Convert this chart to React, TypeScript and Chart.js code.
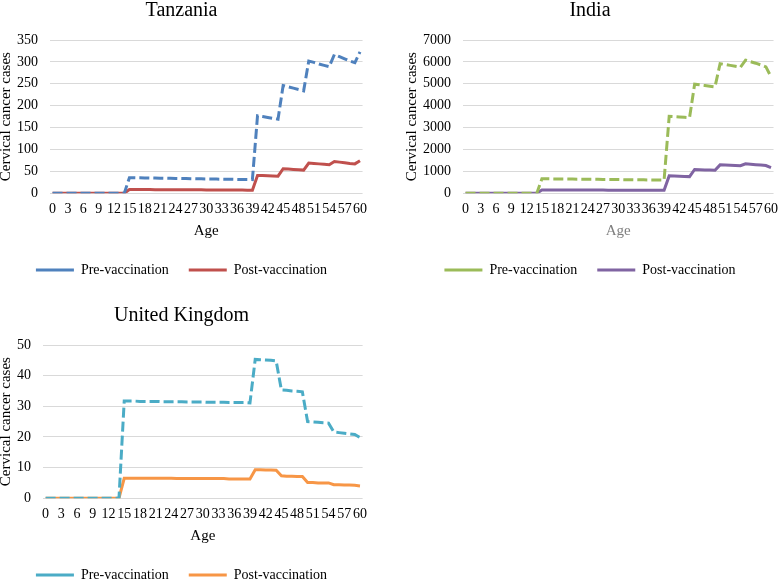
import React, { useEffect, useRef } from 'react';
import { Chart, registerables } from 'chart.js';

Chart.register(...registerables);

const FONT = "'Liberation Serif', 'Times New Roman', serif";

const ages = [
  '0', '1', '2', '3', '4', '5', '6', '7', '8', '9', '10', '11', '12', '13', '14', '15', '16', '17', '18', '19', '20',
  '21', '22', '23', '24', '25', '26', '27', '28', '29', '30', '31', '32', '33', '34', '35', '36', '37', '38', '39', '40',
  '41', '42', '43', '44', '45', '46', '47', '48', '49', '50', '51', '52', '53', '54', '55', '56', '57', '58', '59', '60',
];

const xTickLabels = ['0', '3', '6', '9', '12', '15', '18', '21', '24', '27', '30', '33', '36', '39', '42', '45', '48', '51', '54', '57', '60'];

const seriesNames = ['Pre-vaccination', 'Post-vaccination'];

// Tanzania
const tanzaniaPre = [
  0, 0, 0, 0, 0, 0, 0, 0, 0, 0, 0, 0, 0, 0, 0,
  35.5, 35.3, 35.1, 35.0, 34.8, 34.6, 34.4, 34.2, 34.0, 33.8, 33.6, 33.4, 33.2, 33.0, 32.8, 32.6, 32.4, 32.2, 32.0, 31.8, 31.7, 31.5, 31.3, 31.1, 31.0,
  177, 175, 173, 171, 169,
  246, 243, 240, 237, 234,
  302, 299, 295, 292, 289,
  317, 312, 307, 302, 298,
  323,
];
const tanzaniaPost = [
  0, 0, 0, 0, 0, 0, 0, 0, 0, 0, 0, 0, 0, 0, 0,
  8.4, 8.3, 8.3, 8.2, 8.2, 8.1, 8.0, 8.0, 7.9, 7.9, 7.8, 7.7, 7.7, 7.6, 7.6, 7.5, 7.4, 7.4, 7.3, 7.3, 7.2, 7.1, 7.1, 7.0, 7.0,
  40.5, 40.2, 39.8, 39.4, 39.0,
  56.0, 55.2, 54.4, 53.6, 52.8,
  69.0, 68.0, 67.0, 66.0, 65.0,
  72.5, 71.0, 69.5, 68.0, 67.0,
  74.0,
];
const tanzaniaTicks = [0, 50, 100, 150, 200, 250, 300, 350];

// India
const indiaPre = [
  0, 0, 0, 0, 0, 0, 0, 0, 0, 0, 0, 0, 0, 0, 0,
  660, 658, 655, 653, 650, 648, 645, 643, 640, 638, 635, 633, 630, 628, 625, 623, 620, 618, 615, 613, 610, 608, 605, 603, 600,
  3510, 3495, 3480, 3465, 3450,
  4980, 4950, 4920, 4890, 4860,
  5920, 5880, 5840, 5800, 5760,
  6080, 6010, 5940, 5860, 5770,
  5320,
];
const indiaPost = [
  0, 0, 0, 0, 0, 0, 0, 0, 0, 0, 0, 0, 0, 0, 0,
  150, 149, 148, 148, 147, 146, 145, 145, 144, 143, 142, 142, 141, 140, 139, 139, 138, 137, 136, 136, 135, 134, 133, 133, 132,
  790, 782, 774, 766, 758,
  1085, 1075, 1065, 1055, 1045,
  1295, 1285, 1275, 1265, 1255,
  1345, 1325, 1305, 1285, 1265,
  1170,
];
const indiaTicks = [0, 1000, 2000, 3000, 4000, 5000, 6000, 7000];

// United Kingdom
const ukPre = [
  0, 0, 0, 0, 0, 0, 0, 0, 0, 0, 0, 0, 0, 0, 0,
  31.7, 31.7, 31.7, 31.6, 31.6, 31.6, 31.6, 31.5, 31.5, 31.5, 31.5, 31.5, 31.4, 31.4, 31.4, 31.4, 31.3, 31.3, 31.3, 31.3, 31.2, 31.2, 31.2, 31.2, 31.1,
  45.3, 45.2, 45.1, 45.0, 44.8,
  35.3, 35.2, 35.0, 34.9, 34.7,
  25.0, 24.9, 24.8, 24.6, 24.5,
  21.6, 21.4, 21.2, 21.0, 20.8,
  19.8,
];
const ukPost = [
  0, 0, 0, 0, 0, 0, 0, 0, 0, 0, 0, 0, 0, 0, 0,
  6.5, 6.5, 6.5, 6.5, 6.5, 6.5, 6.5, 6.5, 6.5, 6.5, 6.4, 6.4, 6.4, 6.4, 6.4, 6.4, 6.4, 6.4, 6.4, 6.4, 6.3, 6.3, 6.3, 6.3, 6.3,
  9.3, 9.3, 9.2, 9.2, 9.1,
  7.3, 7.2, 7.2, 7.1, 7.1,
  5.1, 5.1, 5.0, 5.0, 5.0,
  4.4, 4.4, 4.3, 4.3, 4.2,
  4.0,
];
const ukTicks = [0, 10, 20, 30, 40, 50];

type PanelProps = {
  title: string;
  pre: number[];
  post: number[];
  yTicks: number[];
  preColor: string;
  postColor: string;
  ageColor: string;
  left: number;
  top: number;
  width: number;
  height: number;
};

function Panel(props: PanelProps) {
  const ref = useRef<HTMLCanvasElement | null>(null);
  useEffect(() => {
    if (!ref.current) return;
    const yMax = props.yTicks[props.yTicks.length - 1];
    const yStep = props.yTicks[1] - props.yTicks[0];
    const chart = new Chart(ref.current, {
      type: 'line',
      data: {
        labels: ages,
        datasets: [
          {
            label: seriesNames[0],
            data: props.pre,
            borderColor: props.preColor,
            backgroundColor: props.preColor,
            borderWidth: 3,
            borderDash: [10, 4],
            pointRadius: 0,
            pointHoverRadius: 0,
            tension: 0,
            fill: false,
          },
          {
            label: seriesNames[1],
            data: props.post,
            borderColor: props.postColor,
            backgroundColor: props.postColor,
            borderWidth: 3,
            pointRadius: 0,
            pointHoverRadius: 0,
            tension: 0,
            fill: false,
          },
        ],
      },
      options: {
        responsive: false,
        maintainAspectRatio: false,
        animation: false,
        layout: { padding: { left: -12, right: 0, top: 0, bottom: 0 } },
        plugins: {
          title: {
            display: true,
            text: props.title,
            color: '#000',
            font: { family: FONT, size: 20, weight: 'normal', lineHeight: 1 },
            padding: { top: 1, bottom: 19 },
          },
          legend: {
            position: 'bottom',
            labels: {
              usePointStyle: true,
              pointStyle: 'line',
              pointStyleWidth: 38,
              boxHeight: 14,
              padding: 20,
              color: '#000',
              font: { family: FONT, size: 14 },
            },
          },
          tooltip: { enabled: false },
        },
        scales: {
          x: {
            offset: true,
            grid: { display: false, drawTicks: false },
            border: { display: false },
            ticks: {
              autoSkip: false,
              maxRotation: 0,
              minRotation: 0,
              padding: 8,
              color: '#000',
              font: { family: FONT, size: 14 },
              callback: (_v: any, i: number) => (xTickLabels.includes(ages[i]) ? ages[i] : ''),
            },
            title: {
              display: true,
              text: 'Age',
              color: props.ageColor,
              font: { family: FONT, size: 15 },
              padding: { top: -4, bottom: 3 },
            },
          },
          y: {
            min: 0,
            max: yMax,
            grid: { color: '#D9D9D9', drawTicks: false, lineWidth: 1 },
            border: { display: false },
            ticks: {
              stepSize: yStep,
              padding: 12,
              color: '#000',
              font: { family: FONT, size: 14 },
              callback: (v: any) => String(v),
            },
            title: {
              display: true,
              text: 'Cervical cancer cases',
              color: '#000',
              font: { family: FONT, size: 15, lineHeight: 13 / 15 },
              padding: { top: 12, bottom: -8 },
            },
          },
        },
      },
    });
    return () => chart.destroy();
  }, []);
  return (
    <canvas
      ref={ref}
      width={props.width}
      height={props.height}
      style={{ position: 'absolute', left: props.left, top: props.top, width: props.width, height: props.height }}
    />
  );
}

export default function App() {
  return (
    <div style={{ position: 'absolute', left: 0, top: 0, width: 778, height: 579, background: '#fff', overflow: 'hidden' }}>
      <Panel title="Tanzania" pre={tanzaniaPre} post={tanzaniaPost} yTicks={tanzaniaTicks}
        preColor="#4F81BD" postColor="#C0504D" ageColor="#000" left={0} top={0} width={375} height={287} />
      <Panel title="India" pre={indiaPre} post={indiaPost} yTicks={indiaTicks}
        preColor="#9BBB59" postColor="#8064A2" ageColor="#7F7F7F" left={406} top={0} width={380} height={287} />
      <Panel title="United Kingdom" pre={ukPre} post={ukPost} yTicks={ukTicks}
        preColor="#4BACC6" postColor="#F79646" ageColor="#000" left={0} top={305} width={375} height={287} />
    </div>
  );
}
